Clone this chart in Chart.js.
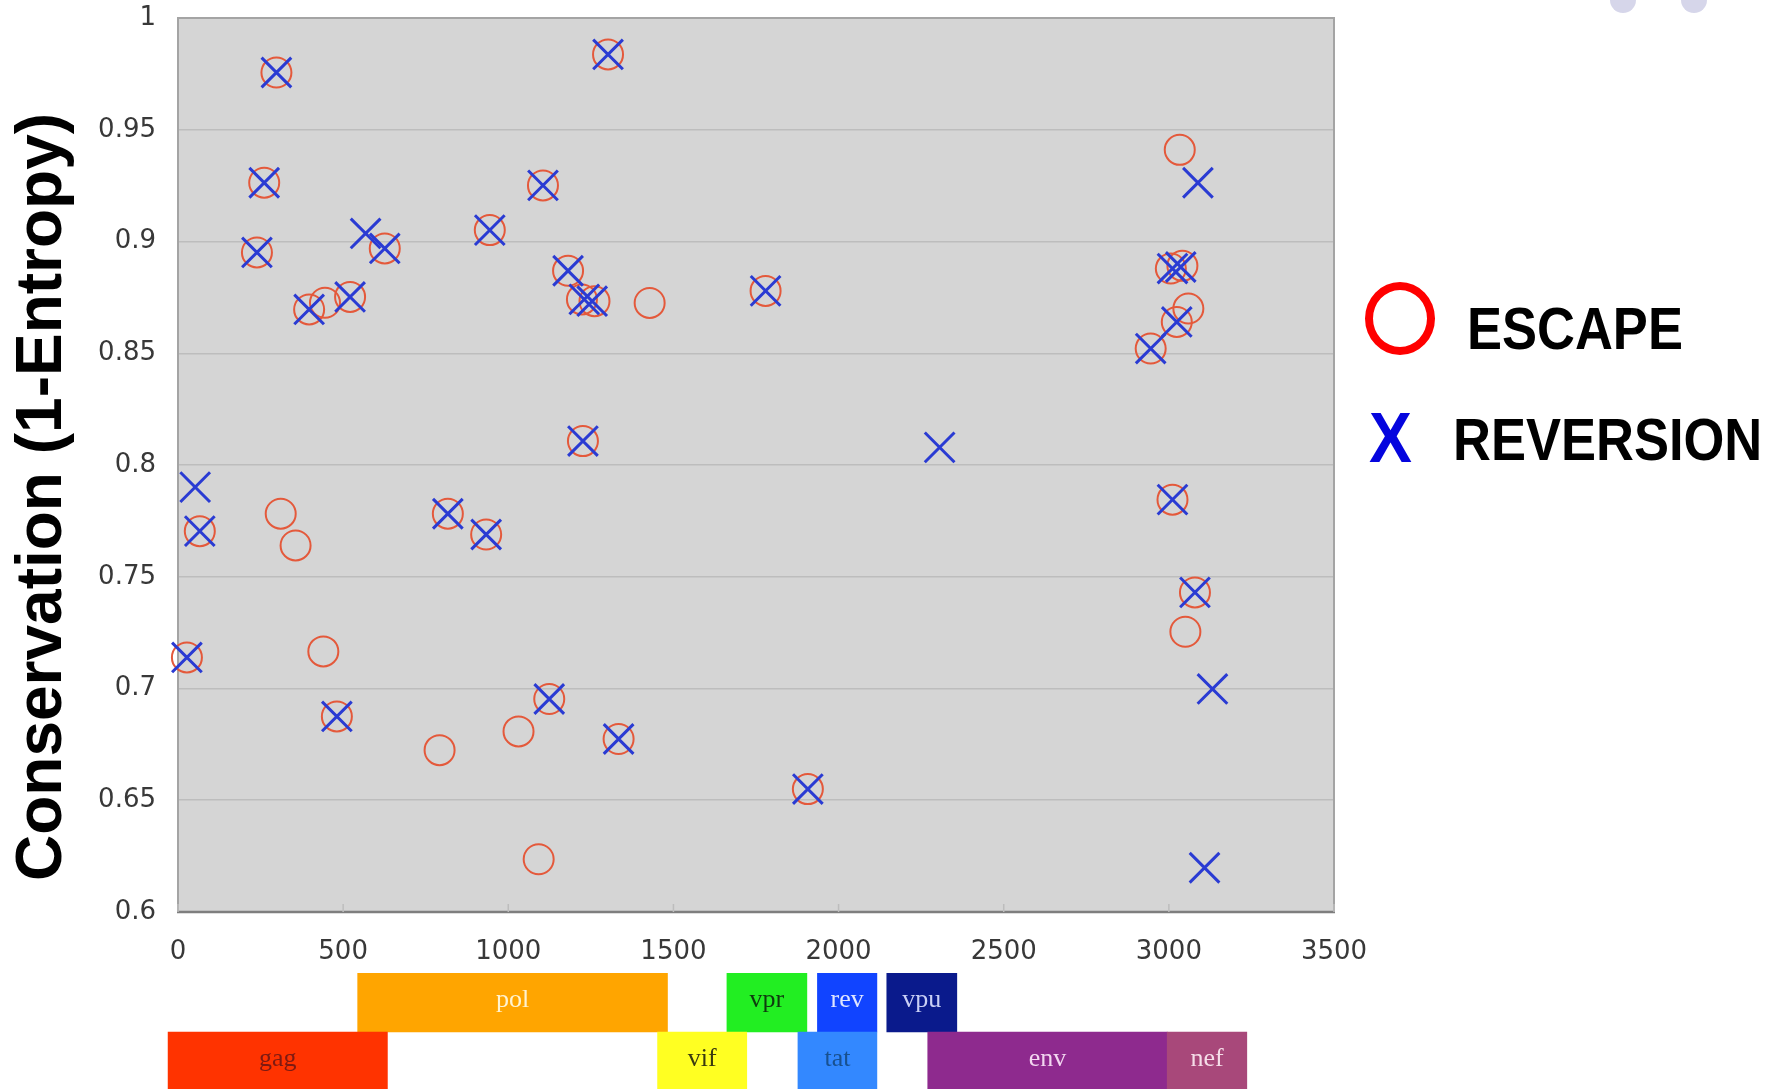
<!DOCTYPE html>
<html>
<head>
<meta charset="utf-8">
<title>Conservation of escape and reversion sites along the HIV-1 genome</title>
<script src="https://cdn.jsdelivr.net/npm/chart.js@4.4.1/dist/chart.umd.min.js"></script>
<style>
  html, body { margin: 0; padding: 0; background: #ffffff; overflow: hidden; width: 1783px; height: 1089px; }
  #wrap { position: relative; width: 1783px; height: 1089px; }
  #main { position: absolute; left: 0; top: 0; }
  #genes { position: absolute; left: 0; top: 973px; }
  .ytitle {
    position: absolute; left: -412px; top: 461px; width: 900px; height: 72px;
    line-height: 72px; text-align: center; white-space: nowrap;
    font: bold 64px "Liberation Sans", Arial, sans-serif; color: #000;
    transform: rotate(-90deg); transform-origin: 50% 50%;
  }
  .key { position: absolute; white-space: nowrap; font-family: "Liberation Sans", Arial, sans-serif; font-weight: bold; }
  .key-ring { position: absolute; left: 1365px; top: 282px; width: 70px; height: 73px; box-sizing: border-box;
    border: 8px solid #ff0000; border-radius: 50%; }
  .key-label { font-size: 60px; line-height: 60px; color: #000; transform: scaleX(0.875); transform-origin: 0 50%; }
  .key-x { font-size: 70px; line-height: 70px; color: #0505de; transform: scaleX(0.92); transform-origin: 0 50%; }
  .dot { position: absolute; width: 26px; height: 26px; border-radius: 50%; background: #d6d6ea; }
</style>
</head>
<body>
<div id="wrap">
  <canvas id="main" width="1420" height="970"></canvas>
  <canvas id="genes" width="1420" height="118"></canvas>
  <div class="ytitle">Conservation (1-Entropy)</div>
  <div class="key-ring"></div>
  <div class="key key-label" style="left:1467px; top:299px;">ESCAPE</div>
  <div class="key key-x" style="left:1369px; top:403px;">X</div>
  <div class="key key-label" style="left:1453px; top:410px;">REVERSION</div>
  <div class="dot" style="left:1610px; top:-13px;"></div>
  <div class="dot" style="left:1681px; top:-13px;"></div>
</div>
<script>
// Genome position (HXB2 nt, scaled) and conservation of escape sites
const escapePos  = [27, 66, 239, 261, 298, 311, 356, 397, 440, 445, 481, 521, 626, 792, 817, 933, 944,
                    1031, 1092, 1105, 1124, 1181, 1223, 1226, 1261, 1302, 1334, 1428, 1779, 1907,
                    2945, 3006, 3011, 3024, 3033, 3041, 3050, 3059, 3079];
const escapeCons = [0.7139, 0.7704, 0.8951, 0.9263, 0.9756, 0.7782, 0.764, 0.8696, 0.7166, 0.8726, 0.6875,
                    0.8752, 0.8969, 0.6724, 0.7782, 0.7689, 0.9051, 0.6808, 0.6236, 0.9251, 0.6953,
                    0.8869, 0.8741, 0.8107, 0.8733, 0.9837, 0.6774, 0.8725, 0.8779, 0.655,
                    0.8521, 0.8879, 0.7845, 0.864, 0.941, 0.8891, 0.7254, 0.87, 0.743];

// Positions and conservation of reversion sites
const reversionPos  = [27, 52, 66, 239, 261, 298, 397, 481, 521, 568, 626, 817, 933, 944, 1105, 1124,
                       1181, 1230, 1226, 1254, 1302, 1334, 1779, 1907, 2306,
                       2945, 3011, 3011, 3036, 3024, 3079, 3088, 3108, 3132];
const reversionCons = [0.7139, 0.7901, 0.7704, 0.8951, 0.9263, 0.9756, 0.8696, 0.6875, 0.8752, 0.9036,
                       0.8969, 0.7782, 0.7689, 0.9051, 0.9251, 0.6953, 0.8869, 0.8741, 0.8107, 0.8733,
                       0.9837, 0.6774, 0.8779, 0.655, 0.8079,
                       0.8521, 0.8879, 0.7845, 0.8886, 0.864, 0.743, 0.9263, 0.6198, 0.6998];

// Axis ticks
const xTickValues = [0, 500, 1000, 1500, 2000, 2500, 3000, 3500];
const xTickLabels = ['0', '500', '1000', '1500', '2000', '2500', '3000', '3500'];
const yTickValues = [0.6, 0.65, 0.7, 0.75, 0.8, 0.85, 0.9, 0.95, 1];
const yTickLabels = ['0.6', '0.65', '0.7', '0.75', '0.8', '0.85', '0.9', '0.95', '1'];

// Gene map drawn under the position axis
const geneRows  = ['upper', 'lower'];
const geneNames = ['pol', 'vpr', 'rev', 'vpu', 'gag', 'vif', 'tat', 'env', 'nef'];
const geneStart = [544, 1662, 1936, 2146, -30, 1452, 1877, 2270, 2995];
const geneEnd   = [1482, 1904, 2116, 2358, 634, 1722, 2116, 2995, 3236];
const geneRow   = [0, 0, 0, 0, 1, 1, 1, 1, 1];

// Gene colours (fill, then label ink)
const geneFill = ['#ffa500', '#22ee22', '#1144ff', '#0a1a8c', '#ff3300', '#ffff22', '#3388ff', '#8e2a8e', '#a8487a'];
const geneInk  = ['#fff3d0', '#0f3a0f', '#dfe6ff', '#c9cff5', '#7d1a12', '#3a3a10', '#18508f', '#f2d6f0', '#f5dde8'];

const toPoints = (xs, ys) => xs.map((x, i) => ({ x: x, y: ys[i] }));

const tickFont = { family: '"DejaVu Sans", sans-serif', size: 26 };

// Grey plot panel with a thin frame
const plotFrame = {
  id: 'plotFrame',
  beforeDraw(chart) {
    const { ctx, chartArea: a } = chart;
    ctx.save();
    ctx.fillStyle = '#d5d5d5';
    ctx.fillRect(a.left, a.top, a.right - a.left, a.bottom - a.top);
    ctx.restore();
  },
  beforeDatasetsDraw(chart) {
    const { ctx, chartArea: a } = chart;
    ctx.save();
    ctx.strokeStyle = '#a4a4a4';
    ctx.lineWidth = 2;
    ctx.strokeRect(a.left, a.top, a.right - a.left, a.bottom - a.top);
    ctx.strokeStyle = '#7e7e7e';
    ctx.lineWidth = 2.5;
    ctx.beginPath();
    ctx.moveTo(a.left - 1, a.bottom);
    ctx.lineTo(a.right + 1, a.bottom);
    ctx.stroke();
    // short inner tick marks along the position axis
    const xs = chart.scales.x;
    ctx.strokeStyle = '#bdbdbd';
    ctx.lineWidth = 1.5;
    xTickValues.forEach(v => {
      const px = xs.getPixelForValue(v);
      ctx.beginPath();
      ctx.moveTo(px, a.bottom - 8);
      ctx.lineTo(px, a.bottom);
      ctx.stroke();
    });
    ctx.restore();
  }
};

new Chart(document.getElementById('main'), {
  type: 'scatter',
  data: {
    datasets: [
      {
        label: 'REVERSION',
        data: toPoints(reversionPos, reversionCons),
        pointStyle: 'crossRot',
        pointRadius: 21,
        borderColor: '#2a3bd3',
        backgroundColor: '#2a3bd3',
        pointBorderWidth: 3,
        order: 1,
        clip: false
      },
      {
        label: 'ESCAPE',
        data: toPoints(escapePos, escapeCons),
        pointStyle: 'circle',
        pointRadius: 15,
        borderColor: '#e4593b',
        backgroundColor: 'rgba(0,0,0,0)',
        pointBorderWidth: 2,
        order: 2,
        clip: false
      }
    ]
  },
  options: {
    responsive: false,
    animation: false,
    events: [],
    layout: { autoPadding: false, padding: { left: 0, right: 86, top: 18, bottom: 0 } },
    scales: {
      x: {
        type: 'linear',
        min: 0,
        max: 3500,
        afterBuildTicks: s => { s.ticks = xTickValues.map(v => ({ value: v })); },
        afterFit: s => { s.height = 58; s.paddingLeft = 0; s.paddingRight = 0; },
        grid: { display: false, drawTicks: false },
        border: { display: false },
        ticks: {
          padding: 25,
          maxRotation: 0,
          autoSkip: false,
          color: '#383838',
          font: tickFont,
          callback: (v, i) => xTickLabels[i]
        }
      },
      y: {
        type: 'linear',
        min: 0.6,
        max: 1,
        afterBuildTicks: s => { s.ticks = yTickValues.map(v => ({ value: v })); },
        afterFit: s => { s.width = 178; s.paddingTop = 0; s.paddingBottom = 0; },
        grid: { color: '#bdbdbd', lineWidth: 1.5, drawTicks: false },
        border: { display: false },
        ticks: {
          padding: 22,
          autoSkip: false,
          color: '#383838',
          font: tickFont,
          callback: (v, i) => yTickLabels[i]
        }
      }
    },
    plugins: { legend: { display: false }, tooltip: { enabled: false } }
  },
  plugins: [plotFrame]
});

// Gene names written inside their bars
const geneLabels = {
  id: 'geneLabels',
  afterDatasetsDraw(chart) {
    const meta = chart.getDatasetMeta(0);
    const ctx = chart.ctx;
    ctx.save();
    ctx.font = '26px "Liberation Serif", serif';
    ctx.textAlign = 'center';
    ctx.textBaseline = 'middle';
    meta.data.forEach((bar, i) => {
      const p = bar.getProps(['x', 'y', 'base'], true);
      ctx.fillStyle = geneInk[i];
      ctx.fillText(geneNames[i], (p.x + p.base) / 2, p.y - 2);
    });
    ctx.restore();
  }
};

new Chart(document.getElementById('genes'), {
  type: 'bar',
  data: {
    labels: geneRows,
    datasets: [{
      data: geneNames.map((g, i) => ({ x: [geneStart[i], geneEnd[i]], y: geneRows[geneRow[i]] })),
      backgroundColor: geneFill,
      borderWidth: 0,
      barPercentage: 1,
      categoryPercentage: 1,
      clip: false
    }]
  },
  options: {
    indexAxis: 'y',
    responsive: false,
    animation: false,
    events: [],
    layout: { autoPadding: false, padding: { left: 178, right: 86, top: 0, bottom: 0 } },
    scales: {
      x: { type: 'linear', min: 0, max: 3500, display: false },
      y: { type: 'category', display: false }
    },
    plugins: { legend: { display: false }, tooltip: { enabled: false } }
  },
  plugins: [geneLabels]
});
</script>
</body>
</html>
